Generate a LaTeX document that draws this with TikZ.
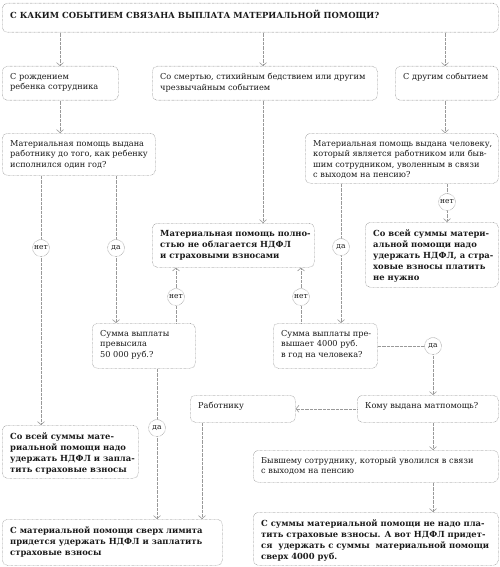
\documentclass[tikz,border=0pt]{standalone}
\usepackage{fontspec}
\setmainfont{DejaVu Serif}
\usetikzlibrary{arrows.meta}
\pgfdeclarelayer{bg}
\pgfsetlayers{bg,main}
\definecolor{ln}{HTML}{999999}
\definecolor{tx}{HTML}{1A1A1A}
\tikzset{
 dots/.style={dash pattern=on 0.5pt off 0.8pt},
 frame/.style={draw=ln, dots, line width=0.6pt, rounded corners=5pt, inner sep=0pt, anchor=north west},
 txt/.style={anchor=north west, inner sep=0pt, align=left, text=tx, font=\fontsize{8.2}{10.6}\selectfont},
 boldtxt/.style={anchor=north west, inner sep=0pt, align=left, text=tx, font=\fontsize{8.4}{11}\selectfont\bfseries},
 arr/.style={draw=ln, dots, line width=0.6pt, -{Straight Barb[length=3pt,width=7pt,line width=0.6pt]}},
 ans/.style={circle, draw=ln, dots, line width=0.6pt, fill=white, minimum size=17pt, inner sep=0pt, text=tx, font=\fontsize{7.5}{8}\selectfont},
}
\newcommand{\fbx}[7]{%
 \node[frame, minimum width=#5pt, minimum height=#6pt] (#2) at (#3,#4) {};
 \node[#1] (#2t) at ([xshift=8pt,yshift=-7pt]#2.north west) {#7};}
\begin{document}
\begin{tikzpicture}[x=1pt,y=-1pt]
\useasboundingbox (0,0) rectangle (500,567);
\fbx{boldtxt}{T}{2}{3}{496}{29}{С КАКИМ СОБЫТИЕМ СВЯЗАНА ВЫПЛАТА МАТЕРИАЛЬНОЙ ПОМОЩИ?}
\fbx{txt}{A}{2}{66}{116}{34}{С рождением\\ребенка сотрудника}
\fbx{txt}{B}{152}{66}{225}{34}{Со смертью, стихийным бедствием или другим\\чрезвычайным событием}
\fbx{txt}{C}{395}{66}{103}{34}{С другим событием}
\fbx{txt}{D}{2}{133}{153}{42}{Материальная помощь выдана\\работнику до того, как ребенку\\исполнился один год?}
\fbx{boldtxt}{E}{152}{223}{162}{44}{Материальная помощь полно-\\стью не облагается НДФЛ\\и страховыми взносами}
\fbx{txt}{F}{305}{133}{193}{50}{Материальная помощь выдана человеку,\\который является работником или быв-\\шим сотрудником, уволенным в связи\\с выходом на пенсию?}
\fbx{boldtxt}{G}{365}{222}{133}{65}{Со всей суммы матери-\\альной помощи надо\\удержать НДФЛ, а стра-\\ховые взносы платить\\не нужно}
\fbx{txt}{H}{92}{323}{103}{45}{Сумма выплаты\\превысила\\50 000 руб.?}
\fbx{txt}{I}{273}{323}{104}{45}{Сумма выплаты пре-\\вышает 4000 руб.\\в год на человека?}
\fbx{txt}{J}{357}{395}{141}{27}{Кому выдана матпомощь?}
\fbx{txt}{K}{190}{395}{105}{27}{Работнику}
\fbx{boldtxt}{L}{2}{425}{136}{53}{Со всей суммы мате-\\риальной помощи надо\\удержать НДФЛ и запла-\\тить страховые взносы}
\fbx{boldtxt}{M}{2}{519}{220}{46}{С материальной помощи сверх лимита\\придется удержать НДФЛ и заплатить\\страховые взносы}
\fbx{txt}{N}{253}{450}{245}{32}{Бывшему сотруднику, который уволился в связи\\с выходом на пенсию}
\fbx{boldtxt}{O}{253}{512}{245}{53}{С суммы материальной помощи не надо пла-\\тить страховые взносы. А вот НДФЛ придет-\\ся\ \ удержать с суммы\ \ материальной помощи\\сверх 4000 руб.}
% answer circles
\node[ans] (n1) at (41,248) {нет};
\node[ans] (d1) at (116,248) {да};
\node[ans] (n2) at (447,202) {нет};
\node[ans] (d2) at (341,247) {да};
\node[ans] (n3) at (176,297) {нет};
\node[ans] (n4) at (301,297) {нет};
\node[ans] (d3) at (433,346) {да};
\node[ans] (d4) at (157,428) {да};
\coordinate (x60) at (60,0);
\coordinate (x263) at (263,0);
\coordinate (x445) at (445,0);
\coordinate (x202) at (202,0);
\begin{pgfonlayer}{bg}
\draw[arr] (x60 |- T.south) -- (x60 |- A.north);
\draw[arr] (x263 |- T.south) -- (x263 |- B.north);
\draw[arr] (x445 |- T.south) -- (x445 |- C.north);
\draw[arr] (x60 |- A.south) -- (x60 |- D.north);
\draw[arr] (x263 |- B.south) -- (x263 |- E.north);
\draw[arr] (x445 |- C.south) -- (x445 |- F.north);
\draw[arr] (n1 |- D.south) -- (n1 |- L.north);
\draw[arr] (d1 |- D.south) -- (d1 |- H.north);
\draw[arr] (n2 |- F.south) -- (n2 |- G.north);
\draw[arr] (d2 |- F.south) -- (d2 |- I.north);
\draw[arr] (n3 |- H.north) -- (n3 |- E.south);
\draw[arr] (n4 |- I.north) -- (n4 |- E.south);
\draw[arr] (I.east |- d3) -- (d3.center) -- (d3 |- J.north);
\draw[arr] (d4 |- H.south) -- (d4 |- M.north);
\draw[arr] (J.west) -- (K.east |- J.west);
\draw[arr] (x202 |- K.south) -- (x202 |- M.north);
\draw[arr] (d3 |- J.south) -- (d3 |- N.north);
\draw[arr] (d3 |- N.south) -- (d3 |- O.north);
\end{pgfonlayer}
\end{tikzpicture}
\end{document}
